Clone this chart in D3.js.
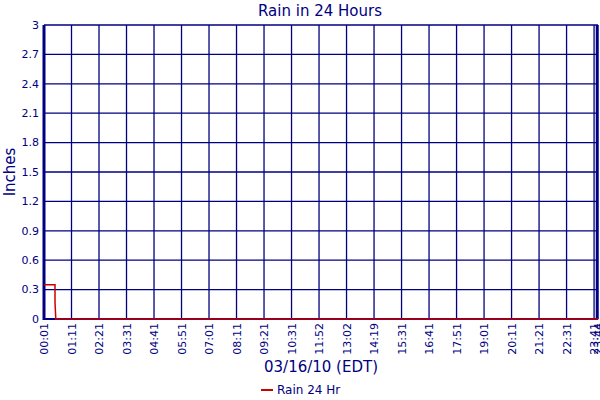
<!DOCTYPE html>
<html>
<head>
<meta charset="utf-8">
<script src="https://cdn.jsdelivr.net/npm/d3@7"></script>
<style>
  body { margin: 0; background: #fff; }
  text { font-family: "DejaVu Sans", Verdana, sans-serif; fill: #000080; }
</style>
</head>
<body>
<svg width="600" height="400"></svg>
<script>
// tick labels along the sample axis (every 7th sample, plus the last one)
const tickLabels = ["00:01","01:11","02:21","03:31","04:41","05:51","07:01","08:11","09:21","10:31",
  "11:52","13:02","14:19","15:31","16:41","17:51","19:01","20:11","21:21","22:31","23:41","23:44"];
const tickIndex = [0,7,14,21,28,35,42,49,56,63,70,77,84,91,98,105,112,119,126,133,140,141];

// rain series (x = sample index, y = inches)
const rainX = [0, 2.8, 2.8, 3.0, 141];
const rainY = [0.35, 0.35, 0.17, 0, 0];

const yTicks = [0, 0.3, 0.6, 0.9, 1.2, 1.5, 1.8, 2.1, 2.4, 2.7, 3];

const svg = d3.select("svg");
const navy = "#000080";
const margin = {left: 44, right: 2, top: 25, bottom: 81};
const W = 600, H = 400;

const x = d3.scaleLinear().domain([0, 141]).range([margin.left, W - margin.right]);
const y = d3.scaleLinear().domain([0, 3]).range([H - margin.bottom, margin.top]);

// grid
svg.append("g")
  .selectAll("line.h")
  .data(yTicks)
  .join("line")
    .attr("x1", x(0)).attr("x2", x(141))
    .attr("y1", d => y(d)).attr("y2", d => y(d))
    .attr("stroke", navy).attr("stroke-width", 1.3);

svg.append("g")
  .selectAll("line.v")
  .data(tickIndex)
  .join("line")
    .attr("x1", d => x(d)).attr("x2", d => x(d))
    .attr("y1", y(0)).attr("y2", y(3))
    .attr("stroke", navy).attr("stroke-width", 1.3);

// frame
svg.append("line")
  .attr("x1", x(0)).attr("x2", x(0)).attr("y1", y(0) + 1).attr("y2", y(3))
  .attr("stroke", navy).attr("stroke-width", 3);
svg.append("line")
  .attr("x1", x(141) - 1).attr("x2", x(141) - 1).attr("y1", y(0) + 1).attr("y2", y(3))
  .attr("stroke", navy).attr("stroke-width", 2.5);
svg.append("line")
  .attr("x1", x(0)).attr("x2", x(141)).attr("y1", y(0)).attr("y2", y(0))
  .attr("stroke", navy).attr("stroke-width", 2);

// y tick labels
svg.append("g")
  .selectAll("text")
  .data(yTicks)
  .join("text")
    .attr("x", margin.left - 5)
    .attr("y", d => y(d))
    .attr("dy", "0.35em")
    .attr("text-anchor", "end")
    .style("font-size", "11px")
    .text(d => d3.format("~g")(d));

// x tick labels (rotated)
svg.append("g")
  .selectAll("text")
  .data(tickIndex)
  .join("text")
    .attr("transform", d => `translate(${x(d) + 4},${y(0) + 4}) rotate(-90)`)
    .attr("text-anchor", "end")
    .style("font-size", "11px")
    .text((d, i) => tickLabels[i]);

// rain line
const pts = rainX.map((d, i) => [d, rainY[i]]);
svg.append("path")
  .datum(pts)
  .attr("fill", "none")
  .attr("stroke", "#cc0000")
  .attr("stroke-width", 1.5)
  .attr("d", d3.line().x(d => x(d[0])).y(d => y(d[1])));

// titles
svg.append("text")
  .attr("x", 320).attr("y", 16)
  .attr("text-anchor", "middle")
  .style("font-size", "15px")
  .text("Rain in 24 Hours");

svg.append("text")
  .attr("transform", `translate(15,${(y(0) + y(3)) / 2}) rotate(-90)`)
  .attr("text-anchor", "middle")
  .style("font-size", "15px")
  .text("Inches");

svg.append("text")
  .attr("x", 321).attr("y", 372)
  .attr("text-anchor", "middle")
  .style("font-size", "15px")
  .text("03/16/10 (EDT)");

// legend
svg.append("line")
  .attr("x1", 261).attr("x2", 273).attr("y1", 390).attr("y2", 390)
  .attr("stroke", "#cc0000").attr("stroke-width", 2);
svg.append("text")
  .attr("x", 277).attr("y", 394)
  .style("font-size", "12px")
  .text("Rain 24 Hr");
</script>
</body>
</html>
